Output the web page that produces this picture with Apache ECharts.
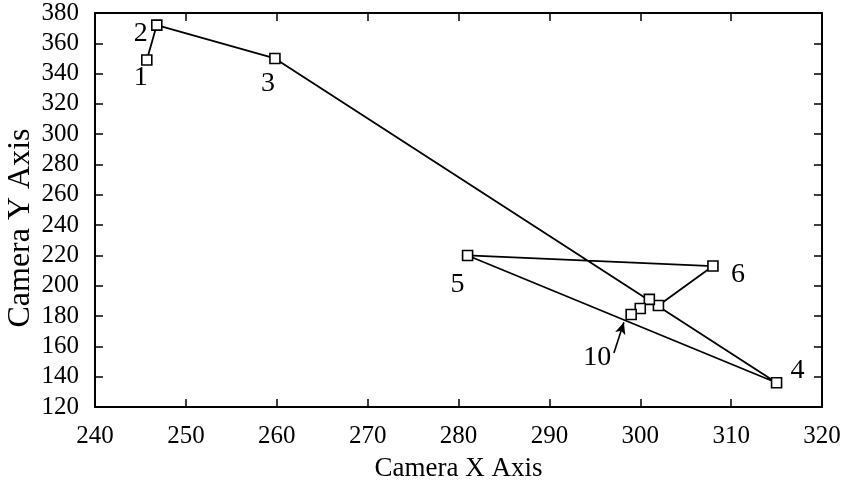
<!DOCTYPE html>
<html>
<head>
<meta charset="utf-8">
<script src="https://cdn.jsdelivr.net/npm/echarts@6/dist/echarts.min.js"></script>
<style>
html,body{margin:0;padding:0;background:#fff;}
#chart{width:849px;height:488px;}
</style>
</head>
<body>
<div id="chart"></div>
<script>
// Data
const xValues = [245.7, 246.8, 259.8, 315, 281, 308, 302, 301, 300, 299];
const yValues = [349, 372, 350, 136, 220, 213, 187, 191, 185, 181];
const pointLabels = ['1', '2', '3', '4', '5', '6', '', '', '', '10'];
const arrowFrom = [297.1, 155.6];
const arrowTo = [298.2, 176.0];
const xTicks = [240, 250, 260, 270, 280, 290, 300, 310, 320];
const yTicks = [120, 140, 160, 180, 200, 220, 240, 260, 280, 300, 320, 340, 360, 380];

// label placement styles (pixel offsets relative to the point)
const labelOffsets = [[-6, 18], [-16, 9], [-7, 25], [21, -12], [-10, 29], [25, 9], [0, 0], [0, 0], [0, 0], [-34, 43]];

const FONT = 'Liberation Serif';
const seriesData = xValues.map((x, i) => ({
  value: [x, yValues[i]],
  label: {
    show: pointLabels[i] !== '',
    formatter: pointLabels[i],
    position: 'inside',
    offset: labelOffsets[i]
  }
}));

const chart = echarts.init(document.getElementById('chart'), null, {renderer: 'canvas'});
const axisCommon = {
  type: 'value',
  axisLine: {show: true, onZero: false, lineStyle: {color: '#000', width: 2}},
  axisTick: {show: true, inside: true, length: 8, lineStyle: {color: '#000', width: 1.5}},
  splitLine: {show: false}
};
chart.setOption({
  backgroundColor: '#fff',
  animation: false,
  grid: {left: 95, right: 27, top: 13, bottom: 81, containLabel: false, outerBoundsMode: 'none'},
  xAxis: [
    Object.assign({}, axisCommon, {
      position: 'bottom', min: xTicks[0], max: xTicks[xTicks.length - 1], interval: 10,
      name: 'Camera X Axis', nameLocation: 'middle', nameGap: 48,
      nameTextStyle: {fontFamily: FONT, fontSize: 27, color: '#000'},
      axisLabel: {fontFamily: FONT, fontSize: 25, color: '#000', margin: 17}
    }),
    Object.assign({}, axisCommon, {
      position: 'top', min: xTicks[0], max: xTicks[xTicks.length - 1], interval: 10,
      axisLabel: {show: false}
    })
  ],
  yAxis: [
    Object.assign({}, axisCommon, {
      position: 'left', min: yTicks[0], max: yTicks[yTicks.length - 1], interval: 20,
      name: 'Camera Y Axis', nameLocation: 'middle', nameGap: 58, nameRotate: 90,
      nameMoveOverlap: false,
      nameTextStyle: {fontFamily: FONT, fontSize: 32, color: '#000', padding: [0, 36, 0, 0]},
      axisLabel: {fontFamily: FONT, fontSize: 25, color: '#000', margin: 16}
    }),
    Object.assign({}, axisCommon, {
      position: 'right', min: yTicks[0], max: yTicks[yTicks.length - 1], interval: 20,
      axisLabel: {show: false}
    })
  ],
  series: [{
    type: 'line',
    data: seriesData,
    showAllSymbol: true,
    symbol: 'rect',
    symbolSize: 10,
    lineStyle: {color: '#000', width: 1.8},
    itemStyle: {color: '#fff', borderColor: '#000', borderWidth: 1.6},
    label: {color: '#000', fontFamily: FONT, fontSize: 28},
    markLine: {
      silent: true,
      symbol: ['none', 'arrow'],
      symbolSize: [8, 12],
      label: {show: false},
      lineStyle: {color: '#000', width: 1.6, type: 'solid'},
      data: [[{coord: arrowFrom}, {coord: arrowTo}]]
    }
  }]
});
</script>
</body>
</html>
